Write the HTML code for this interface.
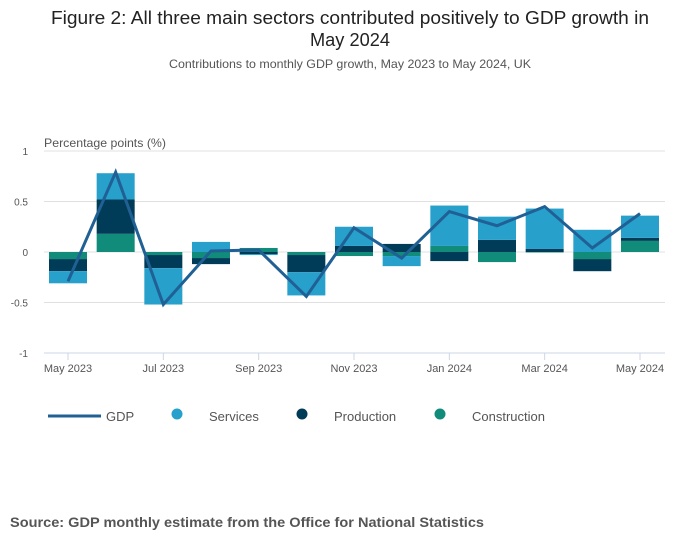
<!DOCTYPE html>
<html><head><meta charset="utf-8">
<style>
html,body{margin:0;padding:0;background:#fff;}
svg text{font-family:"Liberation Sans",sans-serif;}
</style></head>
<body>
<svg width="700" height="549" viewBox="0 0 700 549">
<text x="350" y="24" text-anchor="middle" font-size="18" fill="#222" textLength="598" lengthAdjust="spacingAndGlyphs">Figure 2: All three main sectors contributed positively to GDP growth in</text>
<text x="350" y="46" text-anchor="middle" font-size="18" fill="#222" textLength="80" lengthAdjust="spacingAndGlyphs">May 2024</text>
<text x="350" y="68" text-anchor="middle" font-size="12" fill="#555" textLength="362" lengthAdjust="spacingAndGlyphs">Contributions to monthly GDP growth, May 2023 to May 2024, UK</text>
<text x="44" y="147" font-size="12" fill="#555" textLength="122" lengthAdjust="spacingAndGlyphs">Percentage points (%)</text>
<g id="grid"></g>
<g id="bars"></g>
<g id="line"></g>
<g id="xaxis"></g>
<g>
<line x1="48" y1="416" x2="101" y2="416" stroke="#206095" stroke-width="3"/>
<text x="106" y="421" font-size="13" fill="#555">GDP</text>
<circle cx="177" cy="414" r="5.5" fill="#27a0cc"/>
<text x="209" y="421" font-size="13" fill="#555">Services</text>
<circle cx="302" cy="414" r="5.5" fill="#003c57"/>
<text x="334" y="421" font-size="13" fill="#555">Production</text>
<circle cx="440" cy="414" r="5.5" fill="#118c7b"/>
<text x="472" y="421" font-size="13" fill="#555">Construction</text>
</g>
<text x="10" y="527" font-size="14" font-weight="bold" fill="#555" textLength="474" lengthAdjust="spacingAndGlyphs">Source: GDP monthly estimate from the Office for National Statistics</text>
</svg>
<script>
const months = ["May 2023","Jun 2023","Jul 2023","Aug 2023","Sep 2023","Oct 2023","Nov 2023","Dec 2023","Jan 2024","Feb 2024","Mar 2024","Apr 2024","May 2024"];
const construction = [-0.07,0.18,-0.03,-0.06,0.04,-0.03,-0.04,-0.04,0.06,-0.10,-0.005,-0.07,0.11];
const production = [-0.12,0.34,-0.13,-0.06,-0.02,-0.17,0.06,0.08,-0.09,0.12,0.03,-0.12,0.03];
const services = [-0.12,0.26,-0.36,0.10,-0.01,-0.23,0.19,-0.10,0.40,0.23,0.40,0.22,0.22];
const gdp = [-0.29,0.79,-0.52,0.01,0.02,-0.44,0.24,-0.06,0.40,0.26,0.45,0.04,0.38];
const yTicks = [1,0.5,0,-0.5,-1];
const yTickLabels = ["1","0.5","0","-0.5","-1"];
const xTickIdx = [0,2,4,6,8,10,12];

const NS="http://www.w3.org/2000/svg";
const x0=68, dx=(640-68)/12, yZero=252, yUnit=101, bw=38;
const X=i=>x0+i*dx;
const Y=v=>yZero-v*yUnit;
function mk(tag,attrs,parent){const e=document.createElementNS(NS,tag);for(const k in attrs)e.setAttribute(k,attrs[k]);parent.appendChild(e);return e;}

const grid=document.getElementById('grid');
yTicks.forEach((t,i)=>{
  if(t!==-1){const l=mk('line',{x1:44,x2:665,y1:Y(t),y2:Y(t),stroke:'#e0e0e0','stroke-width':1},grid);
  
  }
  const tx=mk('text',{x:28,y:Y(t)+4,'font-size':10,fill:'#555','text-anchor':'end'},grid);
  tx.textContent=yTickLabels[i];
  
  
});

const bars=document.getElementById('bars');
const series=[[construction,'#118c7b','construction'],[production,'#003c57','production'],[services,'#27a0cc','services']];
months.forEach((m,i)=>{
  let pos=0,neg=0;
  series.forEach(([arr,col,name])=>{
    const v=arr[i];let a,b;
    if(v>=0){a=pos;b=pos+v;pos=b;}else{a=neg;b=neg+v;neg=b;}
    const r=mk('rect',{x:X(i)-bw/2,y:Math.min(Y(a),Y(b)),width:bw,height:Math.abs(Y(a)-Y(b)),fill:col},bars);
    
    
  });
});

const line=document.getElementById('line');
const p=mk('polyline',{points:gdp.map((v,i)=>X(i)+','+Y(v)).join(' '),fill:'none',stroke:'#206095','stroke-width':3,'stroke-linejoin':'miter'},line);



const xa=document.getElementById('xaxis');
const ax=mk('line',{x1:44,x2:665,y1:Y(-1),y2:Y(-1),stroke:'#ccd6e6','stroke-width':1},xa);


xTickIdx.forEach(i=>{
  const t=mk('line',{x1:X(i),x2:X(i),y1:Y(-1),y2:Y(-1)+7,stroke:'#ccd6e6'},xa);
  
  
  const tx=mk('text',{x:X(i),y:372,'font-size':11,fill:'#555','text-anchor':'middle'},xa);
  tx.textContent=months[i];
  
  
});
</script>
</body></html>
